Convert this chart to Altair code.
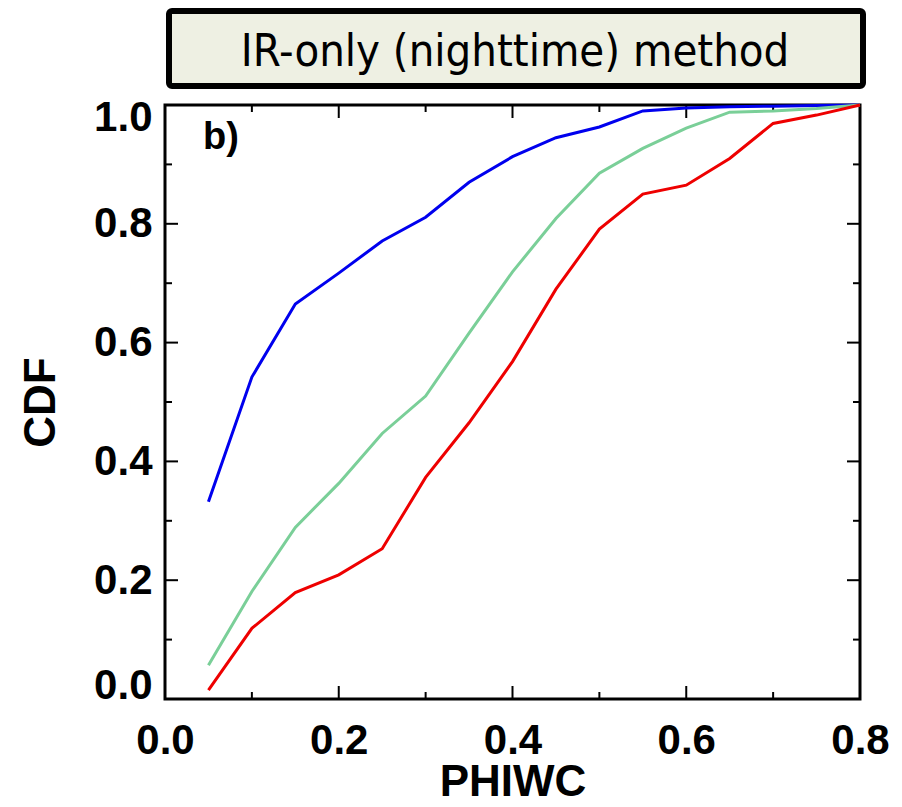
import altair as alt
import pandas as pd

phiwc = [0.05, 0.10, 0.15, 0.20, 0.25, 0.30, 0.35, 0.40,
         0.45, 0.50, 0.55, 0.60, 0.65, 0.70, 0.75, 0.80]
blue_cdf = [0.332, 0.542, 0.665, 0.717, 0.771, 0.811, 0.870, 0.913,
            0.945, 0.963, 0.990, 0.995, 0.997, 0.998, 0.999, 1.000]
green_cdf = [0.057, 0.181, 0.289, 0.363, 0.447, 0.510, 0.616, 0.719,
             0.809, 0.885, 0.927, 0.961, 0.988, 0.990, 0.994, 1.000]
red_cdf = [0.015, 0.119, 0.179, 0.209, 0.253, 0.373, 0.465, 0.568,
           0.690, 0.791, 0.850, 0.865, 0.910, 0.969, 0.983, 1.000]

series_names = ["blue", "green", "red"]
series_colors = ["#0000EE", "#7ACF98", "#EE0000"]

x_major = [0.0, 0.2, 0.4, 0.6, 0.8]
x_minor = [0.1, 0.3, 0.5, 0.7]
y_major = [0.0, 0.2, 0.4, 0.6, 0.8, 1.0]
y_minor = [0.1, 0.3, 0.5, 0.7, 0.9]

panel_title = "IR-only (nighttime) method"
panel_label = "b)"

W, H = 695, 594

rows = []
for name, vals in zip(series_names, [blue_cdf, green_cdf, red_cdf]):
    for xv, yv in zip(phiwc, vals):
        rows.append({"PHIWC": xv, "CDF": yv, "series": name})
df = pd.DataFrame(rows)

xs = alt.Scale(domain=[0, 0.8], nice=False, zero=False)
ys = alt.Scale(domain=[0, 1], nice=False, zero=False)

label_font = "Liberation Sans"

x_axis = alt.Axis(values=x_major, format=".1f", labelFont=label_font, labelFontSize=42,
                  labelFontWeight="bold", labelColor="black", labelPadding=21,
                  ticks=False, domain=False, grid=False, labelFlush=False,
                  title="PHIWC", titleFont=label_font, titleFontSize=44,
                  titleFontWeight="bold", titleColor="black", titleY=96,
                  titleBaseline="alphabetic")
y_axis = alt.Axis(values=y_major, format=".1f", labelFont=label_font, labelFontSize=42,
                  labelFontWeight="bold", labelColor="black", labelPadding=13,
                  ticks=False, domain=False, grid=False, labelFlush=True,
                  labelFlushOffset=8,
                  title="CDF", titleFont=label_font, titleFontSize=44,
                  titleFontWeight="bold", titleColor="black", titleX=-111,
                  titleY=H / 2, titleBaseline="alphabetic", titleAngle=270)

lines = alt.Chart(df).mark_line(strokeWidth=3, clip=False).encode(
    x=alt.X("PHIWC:Q", scale=xs, axis=x_axis),
    y=alt.Y("CDF:Q", scale=ys, axis=y_axis),
    color=alt.Color("series:N", scale=alt.Scale(domain=series_names, range=series_colors),
                    legend=None),
    order=alt.Order("PHIWC:Q"),
)

def xticks(vals, length):
    d = pd.DataFrame({"v": vals})
    bottom = alt.Chart(d).mark_rule(color="black", strokeWidth=2).encode(
        x=alt.X("v:Q", scale=xs), y=alt.value(H), y2=alt.value(H - length))
    top = alt.Chart(d).mark_rule(color="black", strokeWidth=2).encode(
        x=alt.X("v:Q", scale=xs), y=alt.value(0), y2=alt.value(length))
    return [bottom, top]

def yticks(vals, length):
    d = pd.DataFrame({"v": vals})
    left = alt.Chart(d).mark_rule(color="black", strokeWidth=2).encode(
        y=alt.Y("v:Q", scale=ys), x=alt.value(0), x2=alt.value(length))
    right = alt.Chart(d).mark_rule(color="black", strokeWidth=2).encode(
        y=alt.Y("v:Q", scale=ys), x=alt.value(W - length), x2=alt.value(W))
    return [left, right]

tick_layers = xticks(x_major, 13) + xticks(x_minor, 7) + yticks(y_major, 13) + yticks(y_minor, 7)

tdf = pd.DataFrame({"t": [panel_title]})
title_box = alt.Chart(tdf).mark_rect(fill="#EEF0E3", stroke="black", strokeWidth=6,
                                     cornerRadius=3).encode(
    x=alt.value(4), x2=alt.value(698), y=alt.value(-94), y2=alt.value(-19))
title_text = alt.Chart(tdf).mark_text(font="DejaVu Sans Condensed, Open Sans, sans-serif",
                                      fontSize=45, color="black", align="center",
                                      baseline="alphabetic").encode(
    x=alt.value(350), y=alt.value(-39), text="t:N")

ldf = pd.DataFrame({"t": [panel_label]})
label_text = alt.Chart(ldf).mark_text(font=label_font, fontSize=38, fontWeight="bold",
                                      color="black", align="left",
                                      baseline="alphabetic").encode(
    x=alt.value(38), y=alt.value(44), text="t:N")

chart = alt.layer(title_box, title_text, *tick_layers, lines, label_text).properties(
    width=W, height=H,
    autosize=alt.AutoSizeParams(type="none"),
    padding={"left": 157, "top": 97, "right": 30, "bottom": 106},
    background="white",
).configure_view(stroke="black", strokeWidth=3)

chart.save("out.html", embed_options={"renderer": "svg", "actions": False})
